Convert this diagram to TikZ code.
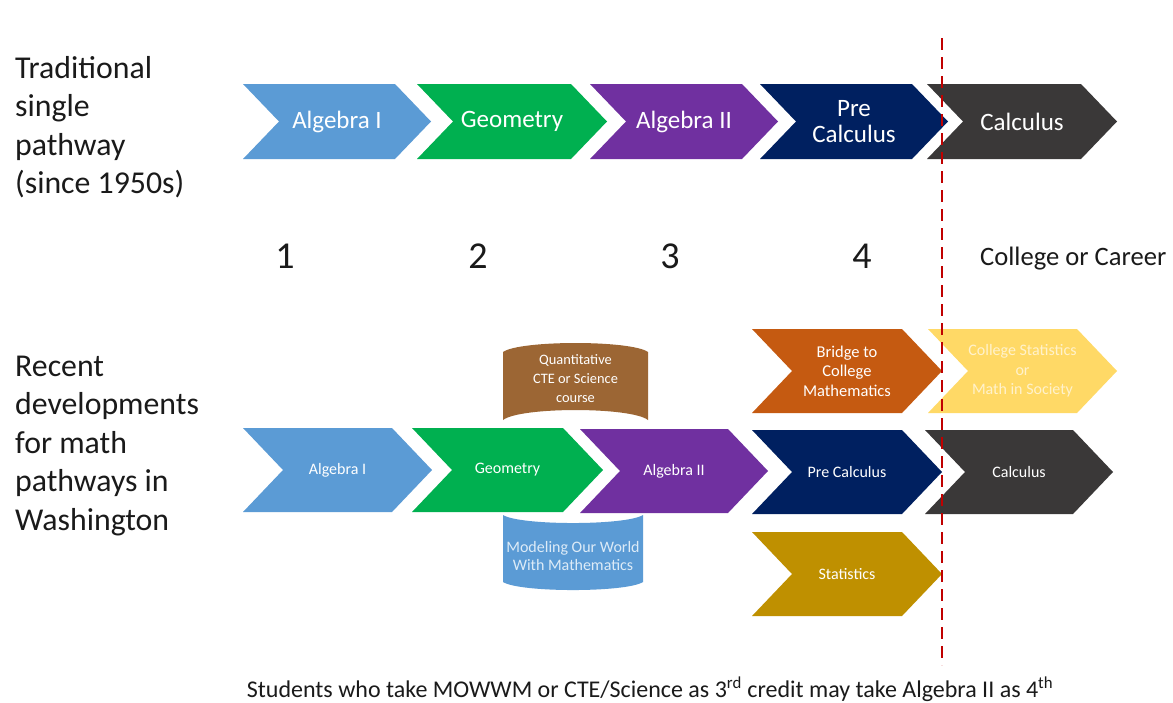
\documentclass[tikz,border=0pt]{standalone}
\usepackage{fontspec}
\setmainfont{Carlito}
\definecolor{algblue}{HTML}{5B9BD5}
\definecolor{geogreen}{HTML}{00B050}
\definecolor{purp}{HTML}{7030A0}
\definecolor{navy}{HTML}{002060}
\definecolor{calcgray}{HTML}{3A3838}
\definecolor{bridgec}{HTML}{C55A11}
\definecolor{yellowc}{HTML}{FFD966}
\definecolor{paleyellow}{HTML}{FFF2CC}
\definecolor{goldc}{HTML}{BF9000}
\definecolor{brownc}{HTML}{9C6634}
\definecolor{cyltext}{HTML}{DDEBF7}
\definecolor{redline}{HTML}{C00000}
\definecolor{labelc}{HTML}{1A1A1A}
\newcommand\mychev[9]{%
  \fill[#7] (#2,#3) -- ({#2+#4-#6},#3) -- ({#2+#4},{#3+#5/2}) -- ({#2+#4-#6},{#3+#5}) -- (#2,{#3+#5}) -- ({#2+#6},{#3+#5/2}) -- cycle;
  \node[#8] (#1) at ({#2+#4/2},{#3+#5/2}) {#9};}
\begin{document}
\begin{tikzpicture}[x=1pt,y=-1pt,
  toptext/.style={text=white,align=center,inner sep=0pt,font=\fontsize{25}{26}\selectfont},
  bottext/.style={text=white,align=center,inner sep=0pt,font=\fontsize{16}{19.5}\selectfont},
  sidelabel/.style={text=labelc,align=left,anchor=west,inner sep=0pt,font=\fontsize{31.8}{38.5}\selectfont},
  yearnum/.style={text=labelc,inner sep=0pt,font=\fontsize{38}{40}\selectfont},
  reddash/.style={draw=redline,line width=2.6pt,dash pattern=on 12pt off 7pt}]
\useasboundingbox (0,0) rectangle (1173,702);
\fill[white] (0,0) rectangle (1173,702);

% side labels
\node[sidelabel] (lab1) at (15,127) {Traditional\\single\\pathway\\(since 1950s)};
\node[sidelabel] (lab2) at (15,446) {Recent\\developments\\for math\\pathways in\\Washington};

% traditional pathway
\mychev{a1}{243}{84}{188}{75}{36}{algblue}{toptext}{Algebra I}
\mychev{g1}{417}{84}{190}{75}{36}{geogreen}{toptext}{Geometry}
\mychev{b1}{590}{84}{188}{75}{36}{purp}{toptext}{Algebra II}
\mychev{p1}{760}{84}{188}{75}{36}{navy}{toptext}{Pre\\Calculus}
\mychev{c1}{927}{84}{190}{75}{36}{calcgray}{toptext}{Calculus}

% year numbers
\node[yearnum] (n1) at (285,256) {1};
\node[yearnum] (n2) at (478,256) {2};
\node[yearnum] (n3) at (670,256) {3};
\node[yearnum] (n4) at (862,256) {4};
\node[text=labelc,anchor=west,inner sep=0pt,font=\fontsize{26.6}{28}\selectfont] (cc) at (980,259) {College or Career};

% recent pathways
\mychev{a2}{243}{428}{189}{84}{40}{algblue}{bottext}{Algebra I}
\mychev{g2}{412}{428}{191}{84}{40}{geogreen}{bottext}{Geometry}
\mychev{b2}{580}{429}{188}{84}{40}{purp}{bottext}{Algebra II}
\mychev{br}{752}{329}{190}{84}{40}{bridgec}{bottext,font=\fontsize{16.5}{19.5}\selectfont}{Bridge to\\College\\Mathematics}
\mychev{cs}{928}{329}{189}{84}{40}{yellowc}{bottext,text=paleyellow}{College Statistics\\or\\Math in Society}
\mychev{p2}{752}{430}{190}{84}{40}{navy}{bottext}{Pre Calculus}
\mychev{c2}{925}{430}{188}{84}{40}{calcgray}{bottext}{Calculus}
\mychev{st}{752}{532}{190}{84}{40}{goldc}{bottext}{Statistics}

% cylinders
\fill[brownc] (503,352) .. controls (520,340) and (631,340) .. (648,352) -- (648,420)
  .. controls (631,406.7) and (520,406.7) .. (503,420) -- cycle;
\node[text=white,align=center,inner sep=0pt,font=\fontsize{14.4}{19}\selectfont] (qc) at (575.5,379) {Quantitative\\CTE or Science\\course};
\fill[algblue] (503,515) .. controls (520,525.7) and (626,525.7) .. (643,515) -- (643,582)
  .. controls (626,592.7) and (520,592.7) .. (503,582) -- cycle;
\node[text=cyltext,align=center,inner sep=0pt,font=\fontsize{16}{18}\selectfont] (mw) at (573,556) {Modeling Our World\\With Mathematics};

% bottom note
\node[text=labelc,inner sep=0pt,font=\fontsize{24}{26}\selectfont] (note) at (650,689) {Students who take MOWWM or CTE/Science as 3\textsuperscript{rd} credit may take Algebra II as 4\textsuperscript{th}};

% divider
\coordinate (dtop) at (942,38);
\coordinate (dbot) at (942,665);
\draw[reddash] (dtop) -- (dbot);
\end{tikzpicture}
\end{document}
